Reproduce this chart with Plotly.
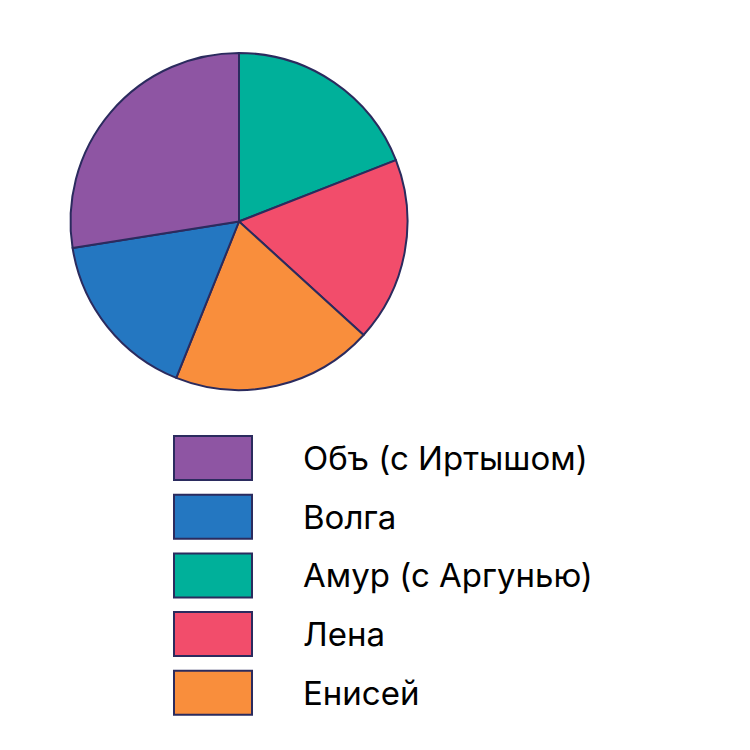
import plotly.graph_objects as go

# slices in clockwise order from 12 o'clock
pie_labels = ["Амур (с Аргунью)", "Лена", "Енисей", "Волга", "Объ (с Иртышом)"]
pie_values = [3750, 3480, 3800, 3230, 5410]
pie_colors = ["#00b09a", "#f24d6b", "#f98e3c", "#2477c1", "#8e55a3"]

# legend order as shown
legend_labels = ["Объ (с Иртышом)", "Волга", "Амур (с Аргунью)", "Лена", "Енисей"]
color_of = dict(zip(pie_labels, pie_colors))

W = 750
edge = "#2b2b5e"

fig = go.Figure(go.Pie(
    labels=pie_labels, values=pie_values, sort=False, direction="clockwise", rotation=0,
    marker=dict(colors=pie_colors, line=dict(color=edge, width=2)),
    textinfo="none", hoverinfo="label+value", showlegend=False,
    domain=dict(x=[62 / W, 400 / W], y=[1 - 382 / W, 1 - 45 / W]),
))

# hand-drawn legend with large swatches
shapes, annotations = [], []
for i, lab in enumerate(legend_labels):
    top = 428 + i * 58.7
    shapes.append(dict(type="rect", xref="paper", yref="paper",
                       x0=166 / W, x1=244 / W, y0=1 - (top + 44) / W, y1=1 - top / W,
                       fillcolor=color_of[lab], line=dict(color=edge, width=2)))
    annotations.append(dict(text=lab, xref="paper", yref="paper", x=293 / W, y=1 - (top + 22) / W,
                            xanchor="left", yanchor="middle", showarrow=False,
                            font=dict(size=33, color="black", family="Inter")))

fig.update_layout(width=750, height=750, margin=dict(l=0, r=0, t=0, b=0),
                  paper_bgcolor="white", shapes=shapes, annotations=annotations,
                  font=dict(family="Inter"))
fig.write_html("out.html")
